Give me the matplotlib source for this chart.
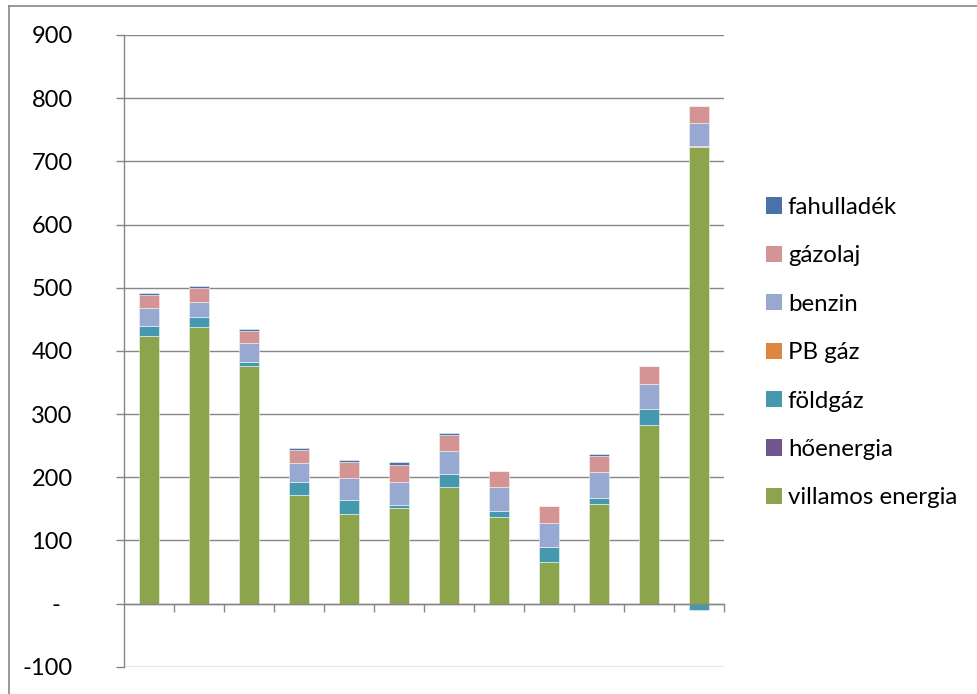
import matplotlib as mpl

mpl.use("Agg")
import matplotlib.pyplot as plt
from matplotlib.lines import Line2D
from matplotlib.patches import Patch
import numpy as np

plt.rcParams["font.family"] = ["Lato", "DejaVu Sans"]

# stacked series, bottom to top
villamos = [424, 438, 376, 172, 141, 152, 185, 137, 65, 158, 283, 723]
hoenergia = [0, 0, 0, 0, 0, 0, 0, 0, 0, 0, 0, 0]
foldgaz = [15, 16, 7, 20, 23, 4, 20, 9, 25, 9, 25, -11]
pb_gaz = [0, 0, 0, 0, 0, 0, 0, 0, 0, 0, 0, 2]
benzin = [29, 24, 29, 30, 35, 37, 37, 39, 38, 41, 40, 35]
gazolaj = [20, 21, 20, 21, 25, 27, 24, 25, 27, 26, 28, 28]
fahulladek = [4, 4, 3, 3, 4, 4, 4, 0, 0, 2, 0, 0]

series = [
    ("villamos energia", villamos, "#8CA54D"),
    ("hőenergia", hoenergia, "#72578F"),
    ("földgáz", foldgaz, "#4499AF"),
    ("PB gáz", pb_gaz, "#DE8640"),
    ("benzin", benzin, "#97A9D1"),
    ("gázolaj", gazolaj, "#D49494"),
    ("fahulladék", fahulladek, "#4A72A8"),
]
yticks = [-100, 0, 100, 200, 300, 400, 500, 600, 700, 800, 900]
ylabels = ["-100", "-  ", "100", "200", "300", "400", "500", "600", "700", "800", "900"]

GRID = "#868686"

fig = plt.figure(figsize=(9.78, 6.94), dpi=100, facecolor="white")
ax = fig.add_axes([124 / 978, 1 - 666.7 / 694, 600 / 978, (666.7 - 35) / 694])

x = np.arange(len(villamos))
pos = np.zeros(len(x))
neg = np.zeros(len(x))
for name, vals, color in series:
    v = np.array(vals, dtype=float)
    bottom = np.where(v >= 0, pos, neg)
    ax.bar(x, v, 0.4, bottom=bottom, color=color, edgecolor="#f4f4f4", linewidth=0.4, zorder=3)
    pos += np.where(v >= 0, v, 0)
    neg += np.where(v < 0, v, 0)

ax.set_xlim(-0.5, len(x) - 0.5)
ax.set_ylim(-100, 900)
ax.set_yticks(yticks)
ax.set_yticklabels(ylabels, fontsize=17)
ax.yaxis.grid(True, color=GRID, linewidth=1.0, zorder=0)
ax.tick_params(axis="y", direction="out", length=6, width=1.0, color=GRID, pad=31)

ax.set_xticks(np.arange(len(x)) + 0.5)
ax.set_xticklabels([])
ax.tick_params(axis="x", direction="out", length=6, width=1.0, color=GRID)

for side in ("top", "right"):
    ax.spines[side].set_visible(False)
ax.spines["left"].set_color(GRID)
ax.spines["left"].set_linewidth(1.0)
ax.spines["bottom"].set_position(("data", 0))
ax.spines["bottom"].set_color(GRID)
ax.spines["bottom"].set_linewidth(1.0)
ax.spines["bottom"].set_zorder(4)

handles = [Patch(facecolor=c, edgecolor="none") for _, _, c in series][::-1]
labels = [n for n, _, _ in series][::-1]
fig.legend(handles, labels, loc="upper left", bbox_to_anchor=(766 / 978, 1 - 197 / 694),
           frameon=False, fontsize=17.3, handlelength=0.66, handleheight=0.66,
           handletextpad=0.25, labelspacing=1.14, borderpad=0, borderaxespad=0)

# chart area border
fig.add_artist(Line2D([8.5 / 978, 8.5 / 978], [0, 1 - 6 / 694], color=GRID, lw=1.2))
fig.add_artist(Line2D([8.5 / 978, 1], [1 - 6 / 694, 1 - 6 / 694], color=GRID, lw=1.2))

fig.savefig("out.png", dpi=100, facecolor="white")
